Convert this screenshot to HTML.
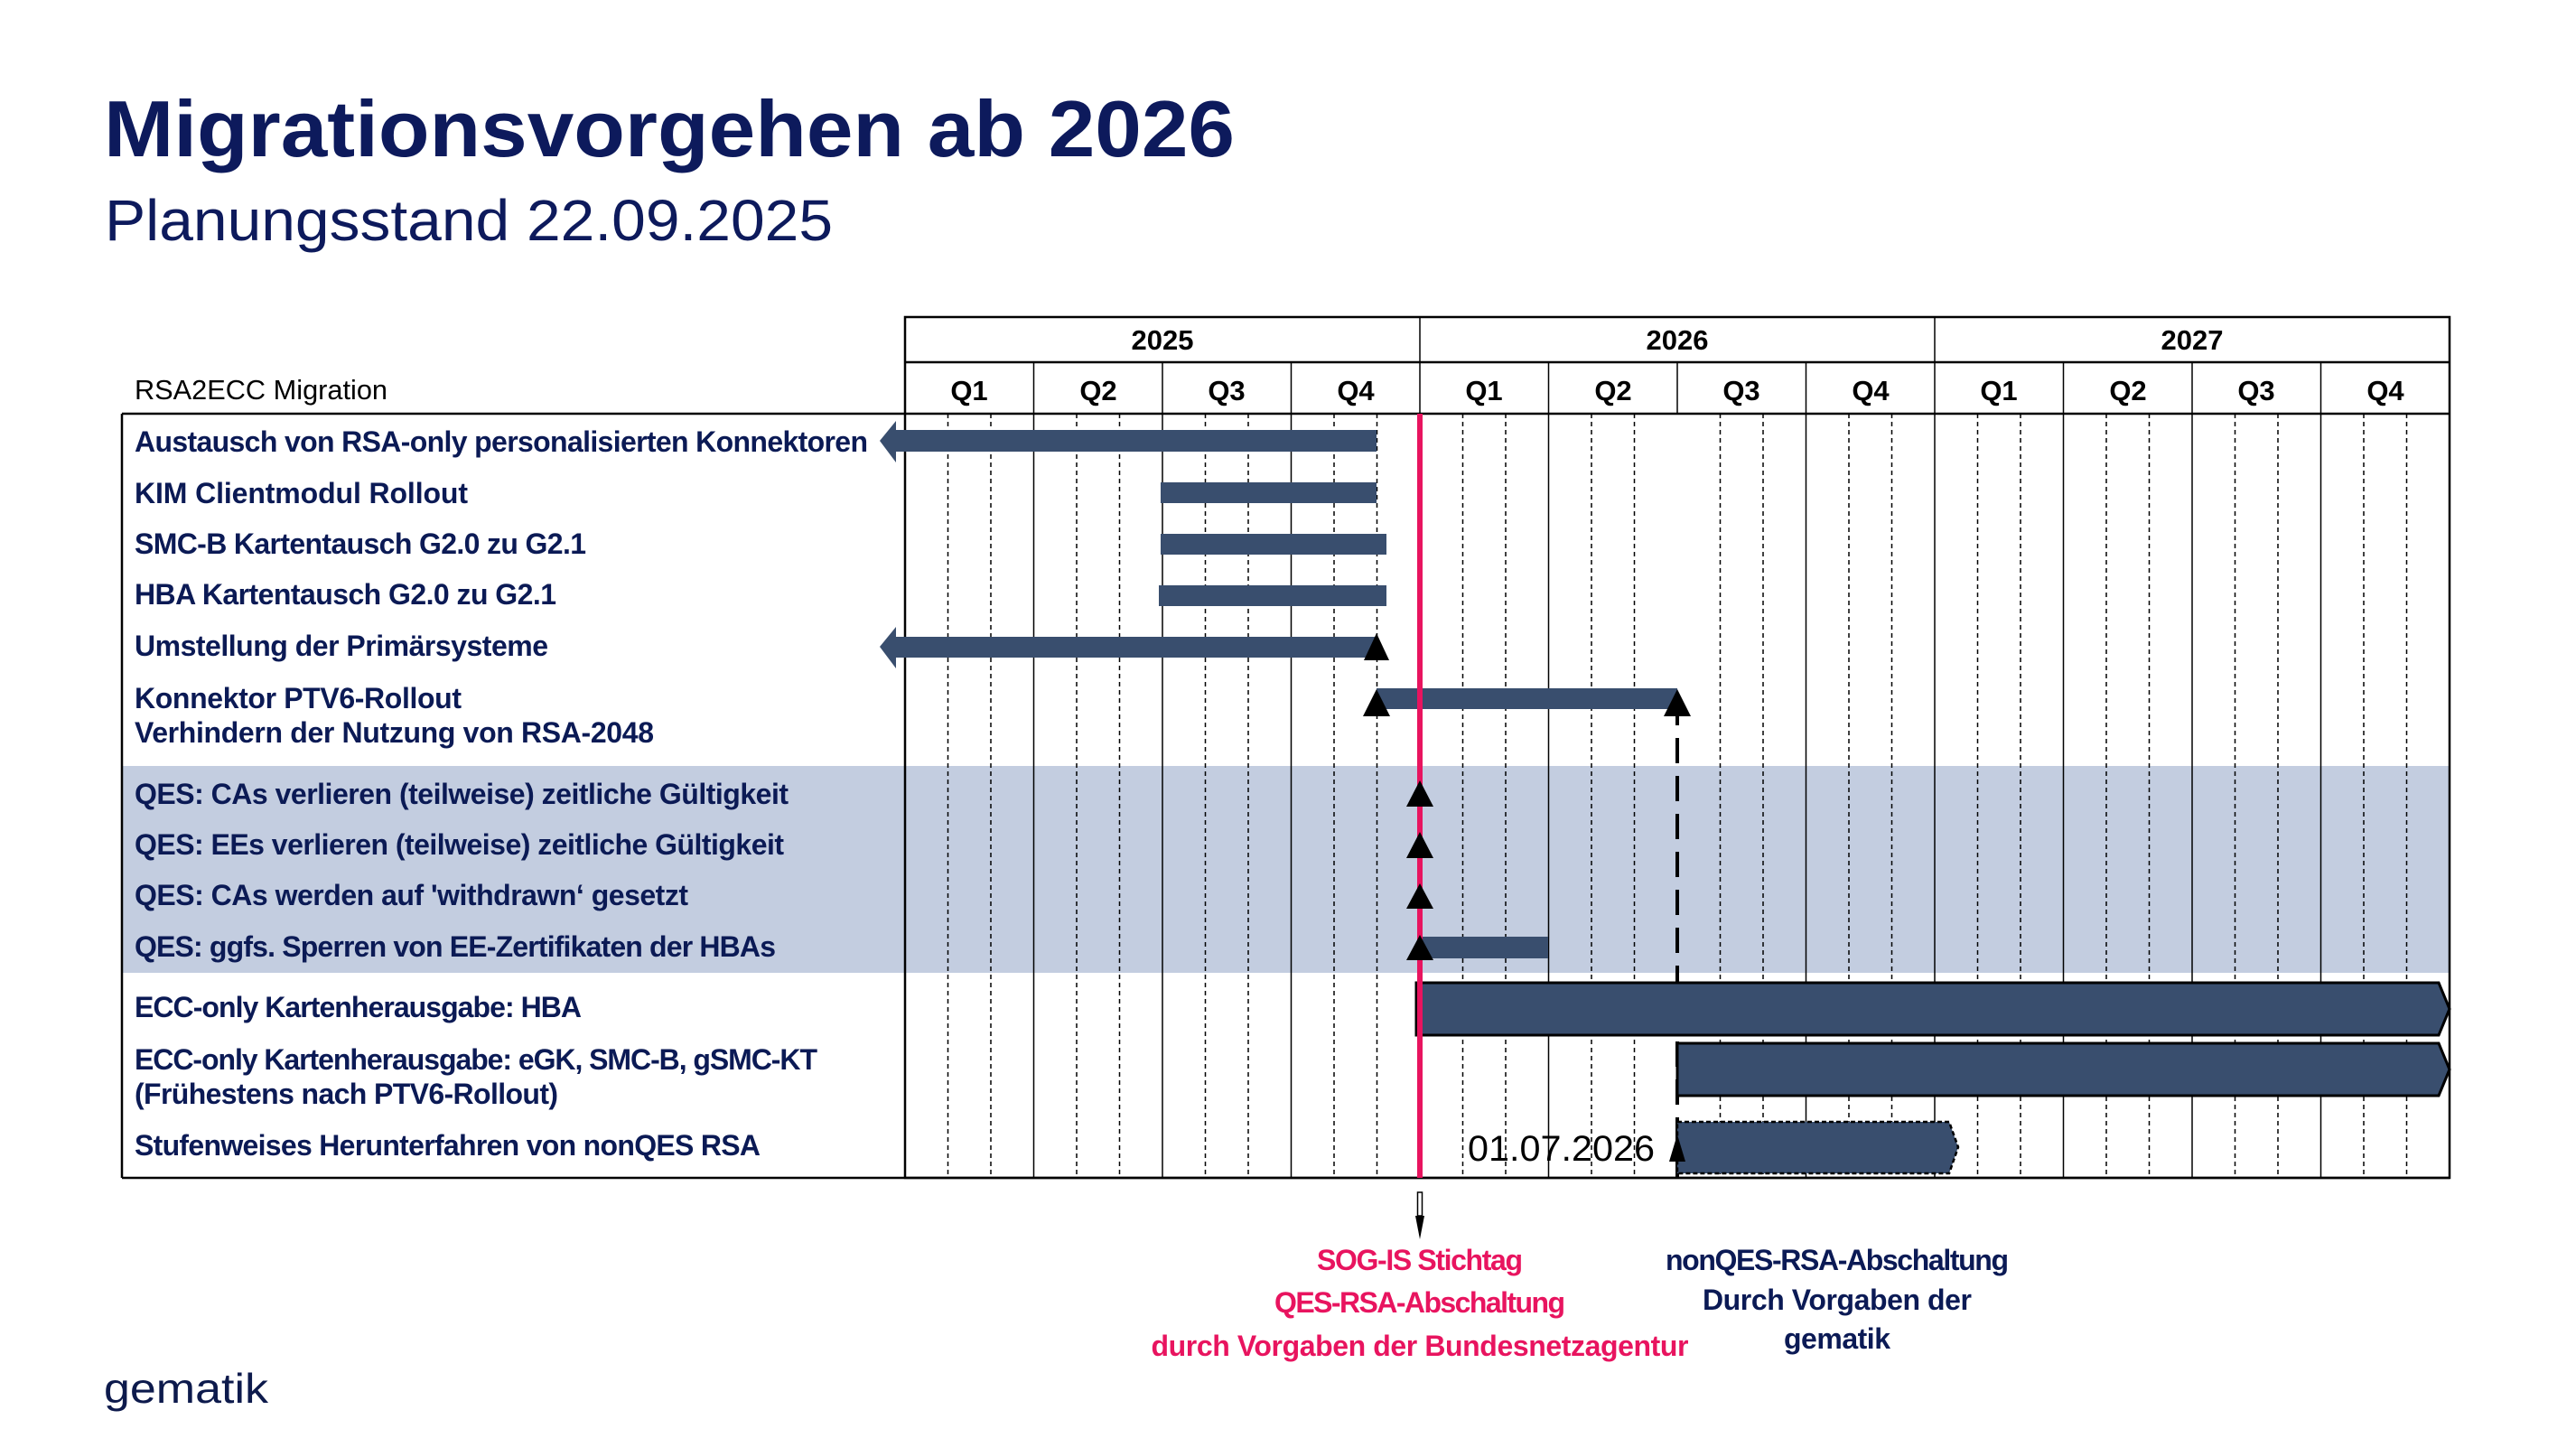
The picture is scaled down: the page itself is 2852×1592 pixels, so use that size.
<!DOCTYPE html>
<html><head><meta charset="utf-8"><style>html,body{margin:0;padding:0;background:#fff}svg{display:block}</style></head>
<body>
<svg width="2852" height="1592" viewBox="0 0 2852 1592" xmlns="http://www.w3.org/2000/svg" font-family="'Liberation Sans', sans-serif">
<rect width="2852" height="1592" fill="#fff"/>
<text x="115" y="173" font-size="88" font-weight="bold" fill="#0d1a5c" textLength="1252" lengthAdjust="spacingAndGlyphs">Migrationsvorgehen ab 2026</text>
<text x="116" y="266" font-size="64" fill="#0d1a5c" textLength="806" lengthAdjust="spacingAndGlyphs">Planungsstand 22.09.2025</text>

<rect x="135" y="848" width="2577" height="229" fill="#c3cde0"/>

<g stroke="#000" stroke-width="1.5" stroke-dasharray="5,4">
<line x1="1049.5" y1="458" x2="1049.5" y2="1304"/><line x1="1097" y1="458" x2="1097" y2="1304"/>
<line x1="1192" y1="458" x2="1192" y2="1304"/><line x1="1239.5" y1="458" x2="1239.5" y2="1304"/>
<line x1="1334.5" y1="458" x2="1334.5" y2="1304"/><line x1="1382" y1="458" x2="1382" y2="1304"/>
<line x1="1477" y1="458" x2="1477" y2="1304"/><line x1="1524.5" y1="458" x2="1524.5" y2="1304"/>
<line x1="1619.5" y1="458" x2="1619.5" y2="1304"/><line x1="1667" y1="458" x2="1667" y2="1304"/>
<line x1="1762" y1="458" x2="1762" y2="1304"/><line x1="1809.5" y1="458" x2="1809.5" y2="1304"/>
<line x1="1904.5" y1="458" x2="1904.5" y2="1304"/><line x1="1952" y1="458" x2="1952" y2="1304"/>
<line x1="2047" y1="458" x2="2047" y2="1304"/><line x1="2094.5" y1="458" x2="2094.5" y2="1304"/>
<line x1="2189.5" y1="458" x2="2189.5" y2="1304"/><line x1="2237" y1="458" x2="2237" y2="1304"/>
<line x1="2332" y1="458" x2="2332" y2="1304"/><line x1="2379.5" y1="458" x2="2379.5" y2="1304"/>
<line x1="2474.5" y1="458" x2="2474.5" y2="1304"/><line x1="2522" y1="458" x2="2522" y2="1304"/>
<line x1="2617" y1="458" x2="2617" y2="1304"/><line x1="2664.5" y1="458" x2="2664.5" y2="1304"/>
</g>
<g stroke="#000" stroke-width="1.5">
<line x1="1144.5" y1="401" x2="1144.5" y2="1304"/><line x1="1287" y1="401" x2="1287" y2="1304"/><line x1="1429.5" y1="401" x2="1429.5" y2="1304"/>
<line x1="1714.5" y1="401" x2="1714.5" y2="1304"/><line x1="1857" y1="401" x2="1857" y2="458"/><line x1="1999.5" y1="401" x2="1999.5" y2="1304"/>
<line x1="2284.5" y1="401" x2="2284.5" y2="1304"/><line x1="2427" y1="401" x2="2427" y2="1304"/><line x1="2569.5" y1="401" x2="2569.5" y2="1304"/>
<line x1="2142" y1="351" x2="2142" y2="1304"/>
<line x1="1572" y1="351" x2="1572" y2="458"/>
</g>
<g stroke="#000" stroke-width="2.5" fill="none">
<rect x="1002" y="351" width="1710" height="953"/>
<line x1="1002" y1="401" x2="2712" y2="401"/>
<line x1="135" y1="458" x2="2712" y2="458"/>
<line x1="135" y1="458" x2="135" y2="1304"/>
<line x1="135" y1="1304" x2="2712" y2="1304"/>
</g>
<g font-size="31" font-weight="bold" fill="#000" text-anchor="middle">
<text x="1287" y="387">2025</text><text x="1857" y="387">2026</text><text x="2427" y="387">2027</text>
<text x="1073" y="443">Q1</text><text x="1216" y="443">Q2</text><text x="1358" y="443">Q3</text><text x="1501" y="443">Q4</text>
<text x="1643" y="443">Q1</text><text x="1786" y="443">Q2</text><text x="1928" y="443">Q3</text><text x="2071" y="443">Q4</text>
<text x="2213" y="443">Q1</text><text x="2356" y="443">Q2</text><text x="2498" y="443">Q3</text><text x="2641" y="443">Q4</text>
</g>
<text x="149" y="442" font-size="31" fill="#000" textLength="280" lengthAdjust="spacingAndGlyphs">RSA2ECC Migration</text>

<g font-size="32" font-weight="bold" fill="#0b1a55" lengthAdjust="spacingAndGlyphs">
<text x="149" y="500" textLength="812">Austausch von RSA-only personalisierten Konnektoren</text>
<text x="149" y="557" textLength="369">KIM Clientmodul Rollout</text>
<text x="149" y="613" textLength="500">SMC-B Kartentausch G2.0 zu G2.1</text>
<text x="149" y="669" textLength="467">HBA Kartentausch G2.0 zu G2.1</text>
<text x="149" y="726" textLength="458">Umstellung der Primärsysteme</text>
<text x="149" y="784" textLength="362">Konnektor PTV6-Rollout</text>
<text x="149" y="822" textLength="575">Verhindern der Nutzung von RSA-2048</text>
<text x="149" y="890" textLength="724">QES: CAs verlieren (teilweise) zeitliche Gültigkeit</text>
<text x="149" y="946" textLength="719">QES: EEs verlieren (teilweise) zeitliche Gültigkeit</text>
<text x="149" y="1002" textLength="613">QES: CAs werden auf 'withdrawn‘ gesetzt</text>
<text x="149" y="1059" textLength="710">QES: ggfs. Sperren von EE-Zertifikaten der HBAs</text>
<text x="149" y="1126" textLength="495">ECC-only Kartenherausgabe: HBA</text>
<text x="149" y="1184" textLength="756">ECC-only Kartenherausgabe: eGK, SMC-B, gSMC-KT</text>
<text x="149" y="1222" textLength="469">(Frühestens nach PTV6-Rollout)</text>
<text x="149" y="1279" textLength="693">Stufenweises Herunterfahren von nonQES RSA</text>
</g>

<g fill="#394e6e">
<polygon points="974,488 992,466 992,476 1524,476 1524,500 992,500 992,512"/>
<rect x="1285" y="534" width="239" height="23"/>
<rect x="1285" y="591" width="250" height="23"/>
<rect x="1283" y="648" width="252" height="23"/>
<polygon points="974,716 992,694 992,705 1524,705 1524,728 992,728 992,740"/>
<rect x="1524" y="762" width="333" height="23"/>
<rect x="1572" y="1037" width="142" height="24"/>
</g>
<line x1="1857" y1="775" x2="1857" y2="1304" stroke="#000" stroke-width="4" stroke-dasharray="28,14"/>
<g fill="#394e6e" stroke="#000" stroke-width="3">
<polygon points="1568,1088 2700,1088 2712,1117 2700,1146 1568,1146"/>
<polygon points="1857,1155 2700,1155 2712,1184 2700,1213 1857,1213"/>
</g>
<polygon points="1857,1242 2158,1242 2168,1270 2158,1299 1857,1299" fill="#394e6e" stroke="#000" stroke-width="2.5" stroke-dasharray="5,3"/>

<line x1="1572" y1="458" x2="1572" y2="1304" stroke="#e8145f" stroke-width="6"/>

<g fill="#000">
<polygon points="1524,701 1538,731 1510,731"/>
<polygon points="1524,763 1539,793 1509,793"/>
<polygon points="1857,763 1872,793 1842,793"/>
<polygon points="1572,864 1587,893 1557,893"/>
<polygon points="1572,921 1587,950 1557,950"/>
<polygon points="1572,978 1587,1006 1557,1006"/>
<polygon points="1572,1035 1587,1063 1557,1063"/>
<polygon points="1857,1256 1866,1286 1848,1286"/>
</g>
<text x="1832" y="1285" font-size="40" fill="#000" text-anchor="end" textLength="207" lengthAdjust="spacingAndGlyphs">01.07.2026</text>

<rect x="1569.5" y="1320" width="5" height="26" fill="#fff" stroke="#000" stroke-width="1.5"/>
<polygon points="1567,1346 1577,1346 1572,1372" fill="#000"/>

<g font-size="32" font-weight="bold" text-anchor="middle" lengthAdjust="spacingAndGlyphs">
<text x="1572" y="1406" fill="#e8145f" textLength="228">SOG-IS Stichtag</text>
<text x="1572" y="1453" fill="#e8145f" textLength="322">QES-RSA-Abschaltung</text>
<text x="1572" y="1501" fill="#e8145f" textLength="595">durch Vorgaben der Bundesnetzagentur</text>
<text x="2034" y="1406" fill="#0b1a55" textLength="380">nonQES-RSA-Abschaltung</text>
<text x="2034" y="1450" fill="#0b1a55" textLength="298">Durch Vorgaben der</text>
<text x="2034" y="1493" fill="#0b1a55" textLength="118">gematik</text>
</g>
<text x="115" y="1553" font-size="46" fill="#0d1a4c" textLength="182" lengthAdjust="spacingAndGlyphs">gematik</text>
</svg>
</body></html>
